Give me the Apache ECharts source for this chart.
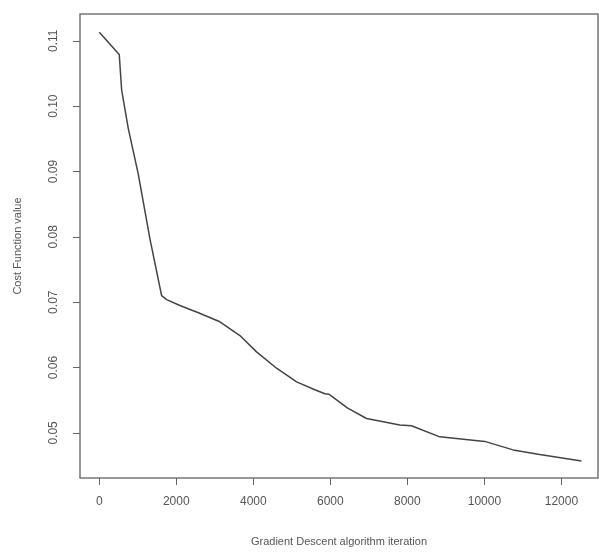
<!DOCTYPE html>
<html>
<head>
<meta charset="utf-8">
<script src="https://cdn.jsdelivr.net/npm/echarts@6/dist/echarts.min.js"></script>
<style>
	html, body { margin: 0; padding: 0; background: #fff; }
	#main { width: 599px; height: 552px; }
</style>
</head>
<body>
<div id="main"></div>
<script>
// iterations
const iters = [
	1, 519, 581, 753, 1013, 1316, 1619, 1750, 2094, 2440, 2528, 3132, 3652, 4084,
	4604, 5124, 5598, 5858, 5970, 6450, 6940, 7804, 8107, 8842, 10010,
	10745, 11438, 12520
]
// cost values at those iterations
const costs = [
	0.1113, 0.1079, 0.1025, 0.0966, 0.0896, 0.0797, 0.0710, 0.0704, 0.0695, 0.0687, 0.0685, 0.0670, 0.0649, 0.0624,
	0.0599, 0.0578, 0.0566, 0.0560, 0.0559, 0.0538, 0.0522, 0.0512, 0.0511, 0.0494, 0.0487,
	0.0474, 0.0467, 0.0457
]
const xTicks = [0, 2000, 4000, 6000, 8000, 10000, 12000]
const yTicks = [0.05, 0.06, 0.07, 0.08, 0.09, 0.10, 0.11]

const chart = echarts.init(document.getElementById('main'))
const font = 'Liberation Sans, Arial, sans-serif'

chart.setOption({
	backgroundColor: '#fff',
	animation: false,
	grid: {
		left: 80, top: 14, right: 1, bottom: 72,
		show: true,
		borderColor: '#777',
		borderWidth: 1.5
	},
	xAxis: {
		type: 'value',
		min: -500,
		max: 12950,
		splitLine: { show: false },
		axisLine: { show: false, onZero: false },
		axisTick: {
			show: true, length: 7, customValues: xTicks,
			lineStyle: { color: '#666' }
		},
		axisLabel: {
			customValues: xTicks, margin: 18,
			color: '#555', fontSize: 12, fontFamily: font,
			formatter: v => String(v)
		},
		name: 'Gradient Descent algorithm iteration',
		nameLocation: 'middle',
		nameGap: 58,
		nameTextStyle: { color: '#555', fontSize: 11, fontFamily: font }
	},
	yAxis: {
		type: 'value',
		min: 0.0431,
		max: 0.1141,
		splitLine: { show: false },
		axisLine: { show: false, onZero: false },
		axisTick: {
			show: true, length: 7, customValues: yTicks,
			lineStyle: { color: '#666' }
		},
		axisLabel: {
			customValues: yTicks, margin: 20, rotate: 90,
			color: '#555', fontSize: 12, fontFamily: font,
			formatter: v => v.toFixed(2)
		},
		name: 'Cost Function value',
		nameLocation: 'middle',
		nameGap: 57,
		nameTextStyle: { color: '#555', fontSize: 11, fontFamily: font }
	},
	series: [{
		type: 'line',
		data: iters.map((x, i) => [x, costs[i]]),
		showSymbol: false,
		lineStyle: { color: '#444', width: 1.5 }
	}]
})
</script>
</body>
</html>
